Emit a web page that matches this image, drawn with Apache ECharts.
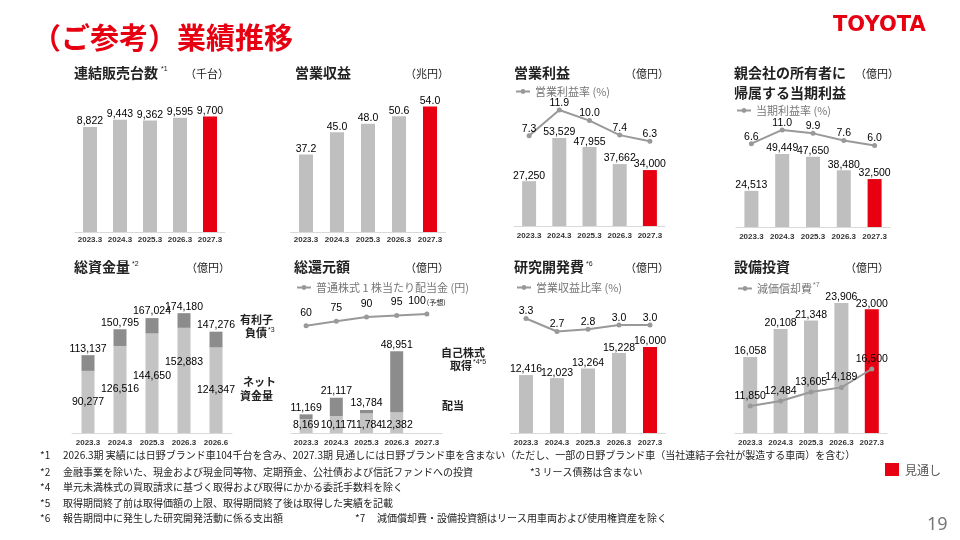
<!DOCTYPE html>
<html>
<head>
<meta charset="utf-8">
<script src="https://cdn.jsdelivr.net/npm/echarts@6/dist/echarts.min.js"></script>
<style>
html, body { margin: 0; padding: 0; background: #fff; }
#main { width: 960px; height: 540px; }
</style>
</head>
<body>
<div id="main"></div>
<script>
// 年度
var years = ['2023.3', '2024.3', '2025.3', '2026.3', '2027.3'];
var fundYears = ['2023.3', '2024.3', '2025.3', '2026.3', '2026.6'];

// 連結販売台数 (千台)
var salesUnits = [8822, 9443, 9362, 9595, 9700];
// 営業収益 (兆円)
var revenue = [37.2, 45.0, 48.0, 50.6, 54.0];
// 営業利益 (億円) / 営業利益率 (%)
var opIncome = [27250, 53529, 47955, 37662, 34000];
var opMargin = [7.3, 11.9, 10.0, 7.4, 6.3];
// 親会社の所有者に帰属する当期利益 (億円) / 当期利益率 (%)
var netIncome = [24513, 49449, 47650, 38480, 32500];
var netMargin = [6.6, 11.0, 9.9, 7.6, 6.0];
// 総資金量 (億円)
var fundTotal = [113137, 150795, 167024, 174180, 147276];
var netCash = [90277, 126516, 144650, 152883, 124347];
var debt = [22860, 24279, 22374, 21297, 22929];
// 総還元額 (億円) / 1株当たり配当金 (円)
var returnTotal = [11169, 21117, 13784, 48951, null];
var dividends = [8169, 10117, 11784, 12382, null];
var buyback = [3000, 11000, 2000, 36569, null];
var dps = [60, 75, 90, 95, 100];
// 研究開発費 (億円) / 営業収益比率 (%)
var rnd = [12416, 12023, 13264, 15228, 16000];
var rndRatio = [3.3, 2.7, 2.8, 3.0, 3.0];
// 設備投資 / 減価償却費 (億円)
var capex = [16058, 20108, 21348, 23906, 23000];
var depreciation = [11850, 12484, 13605, 14189, 16500];

var forecastIndex = 4;

var RED = '#e60012', GRAY = '#bfbfbf', DARK = '#8c8c8c', LINE = '#999999';
var NUM = '"Liberation Sans", Arial, sans-serif';
var JP = '"Noto Sans CJK JP", sans-serif';

var chart = echarts.init(document.getElementById('main'));

function fmt(v) {
    return v == null ? '' : Number(v).toLocaleString('en-US');
}
function barColor(p) {
    return p.dataIndex === forecastIndex ? RED : GRAY;
}

var grids = [
    {left: 75, top: 53.5, width: 150, height: 178.5},
    {left: 290.5, top: 61, width: 155, height: 171},
    {left: 514, top: 61.5, width: 151, height: 164.5},
    {left: 736, top: 79.5, width: 154, height: 147.5},
    {left: 72, top: 261, width: 160, height: 172},
    {left: 291, top: 266, width: 151, height: 167},
    {left: 510.5, top: 269, width: 155, height: 164},
    {left: 735, top: 261, width: 152, height: 172}
];

var xAxes = grids.map(function (g, i) {
    return {
        type: 'category',
        gridIndex: i,
        data: i === 4 ? fundYears : years,
        axisTick: {show: false},
        axisLine: {onZero: false, lineStyle: {color: '#d9d9d9', width: 1}},
        axisLabel: {interval: 0, fontSize: 8, fontWeight: 'bold', color: '#333', fontFamily: NUM, margin: i < 2 ? 4 : 6}
    };
});

// 棒グラフの軸, 折れ線用の軸
var mainRange = [[0, 15000], [10, 70], [0, 100000], [0, 100000], [0, 250000], [0, 100000], [5000, 26000], [5000, 30000]];
var subRange = [[2, -8.86, 20.57], [3, -20, 27.1], [5, -307.5, 264.4], [6, -1.98, 5.58], [7, 8458, 30066]];

var yAxes = mainRange.map(function (r, i) {
    return {type: 'value', gridIndex: i, min: r[0], max: r[1], show: false};
}).concat(subRange.map(function (r) {
    return {type: 'value', gridIndex: r[0], min: r[1], max: r[2], show: false};
}));

var valueLabel = {
    show: true, position: 'top', distance: 0,
    fontFamily: NUM, fontSize: 10.5, color: '#000'
};

function barSeries(name, grid, data, digits, width) {
    return {
        name: name, type: 'bar', xAxisIndex: grid, yAxisIndex: grid,
        data: data, barWidth: width || 14,
        itemStyle: {color: barColor},
        label: Object.assign({}, valueLabel, {
            formatter: function (p) { return digits ? p.value.toFixed(digits) : fmt(p.value); }
        })
    };
}
function lineSeries(name, grid, axis, data, digits, dist) {
    return {
        name: name, type: 'line', xAxisIndex: grid, yAxisIndex: axis,
        data: data, symbol: 'circle', symbolSize: 5, z: 5,
        lineStyle: {color: LINE, width: 2},
        itemStyle: {color: LINE},
        label: Object.assign({}, valueLabel, {
            distance: dist,
            formatter: function (p) { return digits ? p.value.toFixed(digits) : fmt(p.value); }
        })
    };
}

// ネット資金量ラベルの重なり回避 (上下のずらし)
var netCashLabelShift = [0, 0, -7, -18, 0];

var series = [
    barSeries('連結販売台数', 0, salesUnits, 0),
    barSeries('営業収益', 1, revenue, 1),
    barSeries('営業利益', 2, opIncome, 0),
    lineSeries('営業利益率 (%)', 2, 8, opMargin, 1, -1),
    barSeries('当期利益', 3, netIncome, 0),
    lineSeries('当期利益率 (%)', 3, 9, netMargin, 1, -1),
    {
        name: 'ネット資金量', type: 'bar', stack: 'fund', xAxisIndex: 4, yAxisIndex: 4,
        data: netCash.map(function (v, i) {
            return {value: v, label: {offset: [0, netCashLabelShift[i]]}};
        }),
        barWidth: 13, itemStyle: {color: '#c4c4c4'},
        label: Object.assign({}, valueLabel, {position: 'inside', formatter: function (p) { return fmt(p.value); }})
    },
    {
        name: '有利子負債', type: 'bar', stack: 'fund', xAxisIndex: 4, yAxisIndex: 4,
        data: debt, barWidth: 13, itemStyle: {color: DARK},
        label: Object.assign({}, valueLabel, {distance: 1, formatter: function (p) { return fmt(fundTotal[p.dataIndex]); }})
    },
    {
        name: '配当', type: 'bar', stack: 'ret', xAxisIndex: 5, yAxisIndex: 5,
        data: dividends, barWidth: 13, itemStyle: {color: '#c4c4c4'},
        label: Object.assign({}, valueLabel, {position: 'insideBottom', distance: 2, formatter: function (p) { return fmt(p.value); }})
    },
    {
        name: '自己株式取得', type: 'bar', stack: 'ret', xAxisIndex: 5, yAxisIndex: 5,
        data: buyback, barWidth: 13, itemStyle: {color: DARK},
        label: Object.assign({}, valueLabel, {distance: 1, formatter: function (p) { return fmt(returnTotal[p.dataIndex]); }})
    },
    Object.assign(lineSeries('普通株式 1 株当たり配当金 (円)', 5, 10, dps, 0, 5), {
        label: Object.assign({}, valueLabel, {
            distance: 5,
            formatter: function (p) {
                return p.dataIndex === forecastIndex ? '{a|' + p.value + '}{b|(予想)}' : String(p.value);
            },
            rich: {
                a: {fontFamily: NUM, fontSize: 10.5, color: '#000'},
                b: {fontFamily: JP, fontSize: 7, color: '#111', padding: [2, 0, 0, 1]}
            }
        })
    }),
    barSeries('研究開発費', 6, rnd, 0),
    lineSeries('営業収益比率 (%)', 6, 11, rndRatio, 1, -1),
    barSeries('設備投資', 7, capex, 0),
    lineSeries('減価償却費', 7, 12, depreciation, 0, 2)
];

function legendAt(name, left, top, extra) {
    return Object.assign({
        data: [name], left: left, top: top, padding: 0,
        itemWidth: 14, itemHeight: 6, selectedMode: false,
        textStyle: {fontFamily: JP, fontSize: 11, color: '#777'}
    }, extra || {});
}
var legends = [
    legendAt('営業利益率 (%)', 515, 86),
    legendAt('当期利益率 (%)', 736, 105),
    legendAt('普通株式 1 株当たり配当金 (円)', 296, 282),
    legendAt('営業収益比率 (%)', 516, 282),
    legendAt('減価償却費', 737, 282, {
        formatter: '{a|減価償却費}{b|*7}',
        textStyle: {
            fontFamily: JP, fontSize: 11, color: '#777',
            rich: {a: {fontFamily: JP, fontSize: 11, color: '#777'}, b: {fontFamily: NUM, fontSize: 7, color: '#777', padding: [0, 0, 6, 1]}}
        }
    })
];

function txt(x, y, text, size, weight, color, family) {
    return {
        type: 'text', silent: true,
        style: {
            x: x, y: y, text: text, fill: color || '#222',
            fontSize: size, fontWeight: weight || 'normal', fontFamily: family || JP,
            align: 'left', verticalAlign: 'middle'
        }
    };
}

var graphics = [
    txt(32, 38, '（ご参考）業績推移', 29, 'bold', RED),
    txt(833, 26, 'TOYOTA', 21, 'bold', RED, '"DejaVu Sans", sans-serif'),

    txt(74, 73, '連結販売台数', 14, 'bold'),
    txt(161, 69, '*1', 7, 'normal', '#222', NUM),
    txt(185, 74, '（千台）', 11, 'normal'),
    txt(295, 73, '営業収益', 14, 'bold'),
    txt(405, 74, '（兆円）', 11, 'normal'),
    txt(514, 73, '営業利益', 14, 'bold'),
    txt(625, 74, '（億円）', 11, 'normal'),
    txt(734, 73, '親会社の所有者に', 14, 'bold'),
    txt(734, 93, '帰属する当期利益', 14, 'bold'),
    txt(855, 74, '（億円）', 11, 'normal'),

    txt(74, 267, '総資金量', 14, 'bold'),
    txt(132, 264, '*2', 7, 'normal', '#222', NUM),
    txt(186, 268, '（億円）', 11, 'normal'),
    txt(294, 267, '総還元額', 14, 'bold'),
    txt(405, 268, '（億円）', 11, 'normal'),
    txt(514, 267, '研究開発費', 14, 'bold'),
    txt(586, 264, '*6', 7, 'normal', '#222', NUM),
    txt(625, 268, '（億円）', 11, 'normal'),
    txt(734, 267, '設備投資', 14, 'bold'),
    txt(845, 268, '（億円）', 11, 'normal'),

    txt(240, 320, '有利子', 11, 'bold'),
    txt(245, 333, '負債', 11, 'bold'),
    txt(268, 330, '*3', 7, 'normal', '#222', NUM),
    txt(243, 382, 'ネット', 11, 'bold'),
    txt(240, 396, '資金量', 11, 'bold'),
    txt(441, 353, '自己株式', 11, 'bold'),
    txt(450, 366, '取得', 11, 'bold'),
    txt(473, 362, '*4*5', 7, 'normal', '#222', NUM),
    txt(442, 406, '配当', 11, 'bold'),

    txt(40, 455, '*1', 10, 'normal'),
    txt(63, 455, '2026.3期 実績には日野ブランド車104千台を含み、2027.3期 見通しには日野ブランド車を含まない（ただし、一部の日野ブランド車（当社連結子会社が製造する車両）を含む）', 10, 'normal'),
    txt(40, 472, '*2', 10, 'normal'),
    txt(63, 472, '金融事業を除いた、現金および現金同等物、定期預金、公社債および信託ファンドへの投資', 10, 'normal'),
    txt(530, 472, '*3 リース債務は含まない', 10, 'normal'),
    txt(40, 487, '*4', 10, 'normal'),
    txt(63, 487, '単元未満株式の買取請求に基づく取得および取得にかかる委託手数料を除く', 10, 'normal'),
    txt(40, 503, '*5', 10, 'normal'),
    txt(63, 503, '取得期間終了前は取得価額の上限、取得期間終了後は取得した実績を記載', 10, 'normal'),
    txt(40, 518, '*6', 10, 'normal'),
    txt(63, 518, '報告期間中に発生した研究開発活動に係る支出額', 10, 'normal'),
    txt(355, 518, '*7', 10, 'normal'),
    txt(377, 518, '減価償却費・設備投資額はリース用車両および使用権資産を除く', 10, 'normal'),

    {type: 'rect', silent: true, shape: {x: 885, y: 463, width: 14, height: 13}, style: {fill: RED}},
    txt(905, 470, '見通し', 12, 'normal', '#555'),
    txt(927, 525, '19', 18, 'normal', '#777', '"Noto Sans", sans-serif')
];

chart.setOption({
    animation: false,
    textStyle: {fontFamily: JP},
    grid: grids,
    xAxis: xAxes,
    yAxis: yAxes,
    legend: legends,
    series: series,
    graphic: graphics
});
</script>
</body>
</html>
